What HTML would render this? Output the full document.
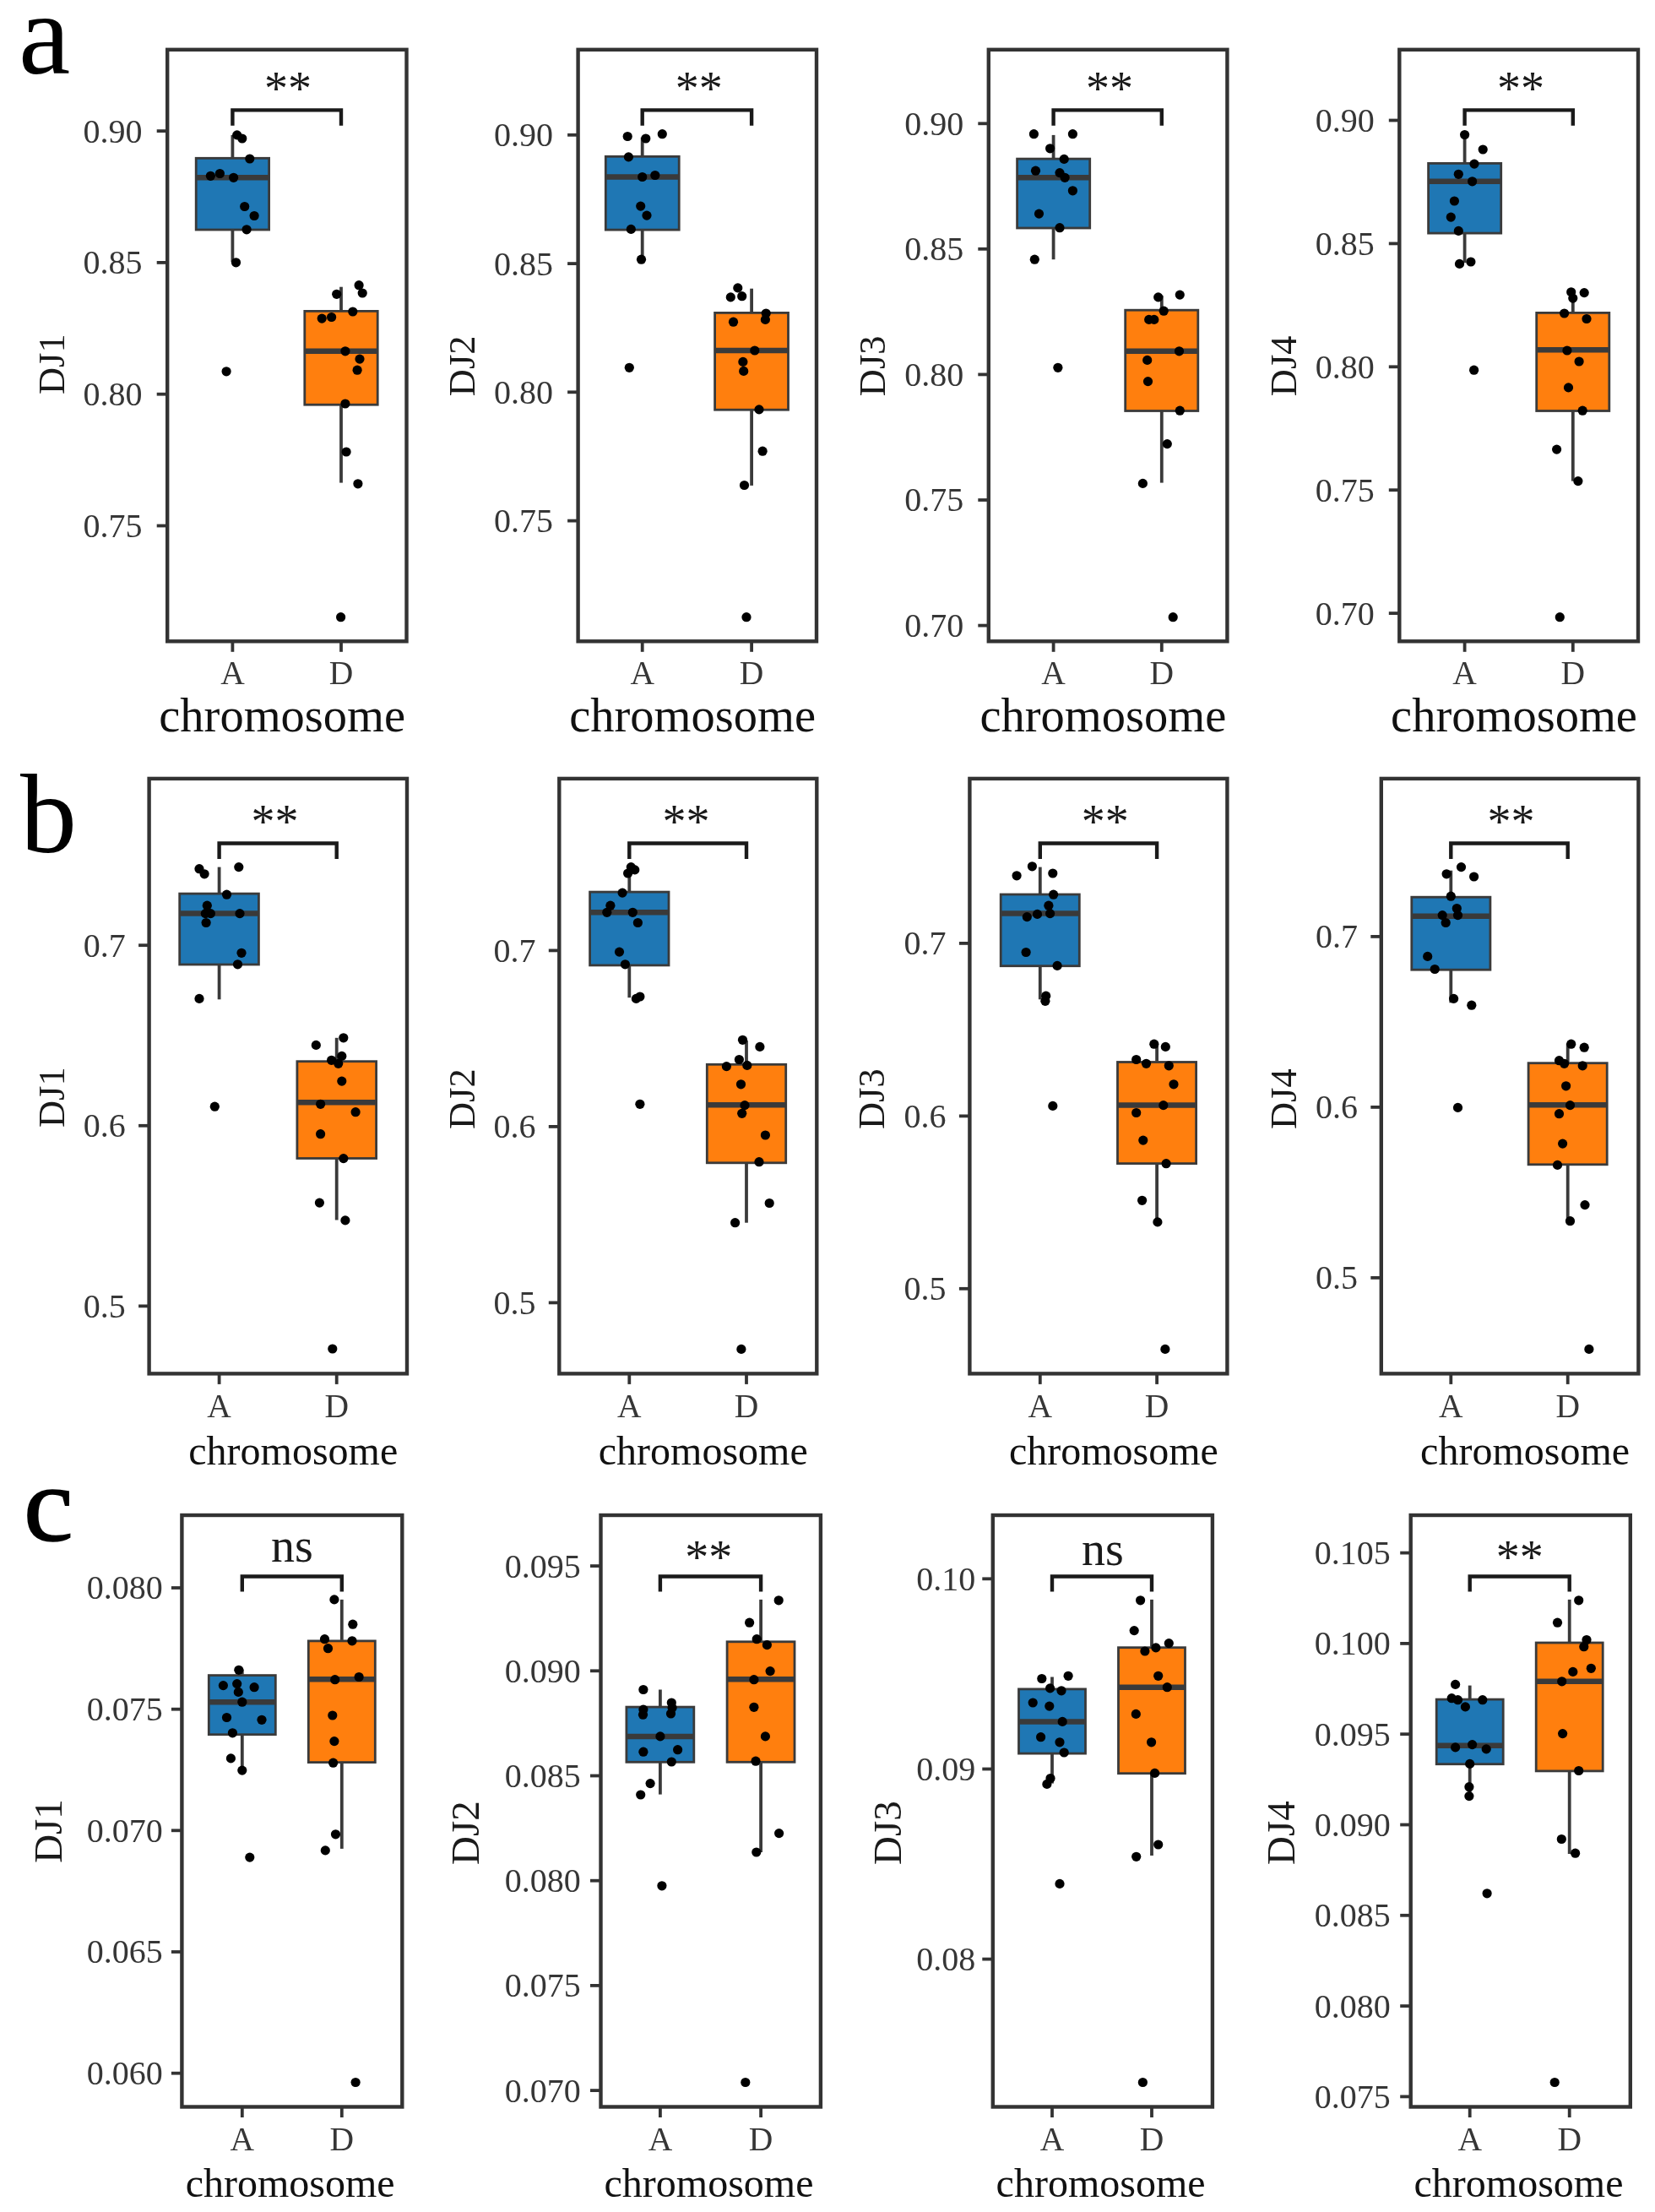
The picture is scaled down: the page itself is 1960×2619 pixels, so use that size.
<!DOCTYPE html>
<html lang="en">
<head>
<meta charset="utf-8">
<title>Boxplots of DJ1-DJ4 by chromosome (A vs D)</title>
<style>
html,body{margin:0;padding:0;background:#fff;}
body{width:1960px;height:2619px;overflow:hidden;}
svg{display:block;font-family:"Liberation Serif", "DejaVu Serif", serif;filter:blur(0.5px);}
</style>
</head>
<body>
<svg width="1960" height="2619" viewBox="0 0 1960 2619">
<rect width="1960" height="2619" fill="#ffffff"/>
<g class="panel" id="a1">
<line x1="275.4" y1="159.9" x2="275.4" y2="186.3" stroke="#3a3a3a" stroke-width="3.8"/>
<line x1="275.4" y1="271.8" x2="275.4" y2="310" stroke="#3a3a3a" stroke-width="3.8"/>
<rect x="232.2" y="187.3" width="86.4" height="84.7" fill="#1f77b4" stroke="#3a3a3a" stroke-width="2.8"/>
<line x1="232.2" y1="210.3" x2="318.6" y2="210.3" stroke="#3a3a3a" stroke-width="6.5"/>
<line x1="404" y1="339.7" x2="404" y2="367.4" stroke="#3a3a3a" stroke-width="3.8"/>
<line x1="404" y1="478.8" x2="404" y2="571.6" stroke="#3a3a3a" stroke-width="3.8"/>
<rect x="360.8" y="368.4" width="86.4" height="110.8" fill="#ff7f0e" stroke="#3a3a3a" stroke-width="2.8"/>
<line x1="360.8" y1="415.8" x2="447.2" y2="415.8" stroke="#3a3a3a" stroke-width="6.5"/>
<g fill="#000"><circle cx="280.7" cy="159.9" r="5.6"/><circle cx="286.8" cy="164" r="5.6"/><circle cx="295.8" cy="188" r="5.6"/><circle cx="249.4" cy="208.3" r="5.6"/><circle cx="260.4" cy="205.5" r="5.6"/><circle cx="276.6" cy="210.3" r="5.6"/><circle cx="289.7" cy="244.5" r="5.6"/><circle cx="301.1" cy="255.5" r="5.6"/><circle cx="292.1" cy="271.8" r="5.6"/><circle cx="279.5" cy="310.8" r="5.6"/><circle cx="268.1" cy="439.8" r="5.6"/><circle cx="425.1" cy="337.7" r="5.6"/><circle cx="429.2" cy="347" r="5.6"/><circle cx="398.7" cy="348.3" r="5.6"/><circle cx="417.8" cy="369" r="5.6"/><circle cx="381.2" cy="377.1" r="5.6"/><circle cx="392.6" cy="375.5" r="5.6"/><circle cx="408.9" cy="415.8" r="5.6"/><circle cx="426" cy="425.1" r="5.6"/><circle cx="423.1" cy="438.2" r="5.6"/><circle cx="408.9" cy="478" r="5.6"/><circle cx="410.1" cy="535" r="5.6"/><circle cx="423.9" cy="572.8" r="5.6"/><circle cx="403.6" cy="730.7" r="5.6"/></g>
<path d="M275.4 148.8V130.4H404V148.8" fill="none" stroke="#1a1a1a" stroke-width="4.4"/>
<text x="340.9" y="123.5" font-size="56" text-anchor="middle" fill="#1a1a1a">**</text>
<rect x="198.2" y="58.8" width="283.3" height="700.5" fill="none" stroke="#333333" stroke-width="4.4"/>
<line x1="185.7" y1="155.1" x2="198.2" y2="155.1" stroke="#333333" stroke-width="3.8"/>
<text x="168.6" y="168.5" font-size="40" text-anchor="end" fill="#363636">0.90</text>
<line x1="185.7" y1="310.9" x2="198.2" y2="310.9" stroke="#333333" stroke-width="3.8"/>
<text x="168.6" y="324.3" font-size="40" text-anchor="end" fill="#363636">0.85</text>
<line x1="185.7" y1="466.7" x2="198.2" y2="466.7" stroke="#333333" stroke-width="3.8"/>
<text x="168.6" y="480.1" font-size="40" text-anchor="end" fill="#363636">0.80</text>
<line x1="185.7" y1="622.5" x2="198.2" y2="622.5" stroke="#333333" stroke-width="3.8"/>
<text x="168.6" y="635.9" font-size="40" text-anchor="end" fill="#363636">0.75</text>
<line x1="275.4" y1="759.3" x2="275.4" y2="771.8" stroke="#333333" stroke-width="3.8"/>
<text x="275.4" y="810.2" font-size="39.5" text-anchor="middle" fill="#363636">A</text>
<line x1="404" y1="759.3" x2="404" y2="771.8" stroke="#333333" stroke-width="3.8"/>
<text x="404" y="810.2" font-size="39.5" text-anchor="middle" fill="#363636">D</text>
<text x="334.2" y="865.5" font-size="56.5" text-anchor="middle" fill="#111">chromosome</text>
<text transform="translate(61 431.2) rotate(-90)" x="0" y="14.7" font-size="44.5" text-anchor="middle" fill="#1a1a1a">DJ1</text>
</g>
<g class="panel" id="a2">
<line x1="760.7" y1="162.7" x2="760.7" y2="184.3" stroke="#3a3a3a" stroke-width="3.8"/>
<line x1="760.7" y1="271.8" x2="760.7" y2="307.2" stroke="#3a3a3a" stroke-width="3.8"/>
<rect x="717.3" y="185.3" width="86.9" height="86.8" fill="#1f77b4" stroke="#3a3a3a" stroke-width="2.8"/>
<line x1="717.3" y1="209.5" x2="804.2" y2="209.5" stroke="#3a3a3a" stroke-width="6.5"/>
<line x1="890.1" y1="341.7" x2="890.1" y2="369.4" stroke="#3a3a3a" stroke-width="3.8"/>
<line x1="890.1" y1="484.9" x2="890.1" y2="574.9" stroke="#3a3a3a" stroke-width="3.8"/>
<rect x="846.6" y="370.4" width="86.9" height="114.8" fill="#ff7f0e" stroke="#3a3a3a" stroke-width="2.8"/>
<line x1="846.6" y1="415" x2="933.6" y2="415" stroke="#3a3a3a" stroke-width="6.5"/>
<g fill="#000"><circle cx="743.2" cy="161.5" r="5.6"/><circle cx="764.8" cy="164" r="5.6"/><circle cx="784.3" cy="158.7" r="5.6"/><circle cx="744.4" cy="185.9" r="5.6"/><circle cx="760.7" cy="209.5" r="5.6"/><circle cx="775.8" cy="207.5" r="5.6"/><circle cx="758.7" cy="244.1" r="5.6"/><circle cx="766" cy="255.1" r="5.6"/><circle cx="747.3" cy="271.4" r="5.6"/><circle cx="759.5" cy="307.2" r="5.6"/><circle cx="745.3" cy="435.3" r="5.6"/><circle cx="873.8" cy="340.9" r="5.6"/><circle cx="865.3" cy="351.9" r="5.6"/><circle cx="878.7" cy="350.7" r="5.6"/><circle cx="907.2" cy="371" r="5.6"/><circle cx="868.5" cy="381.2" r="5.6"/><circle cx="906.4" cy="378.4" r="5.6"/><circle cx="893.8" cy="415" r="5.6"/><circle cx="879.9" cy="428.4" r="5.6"/><circle cx="880.7" cy="439.4" r="5.6"/><circle cx="899" cy="484.9" r="5.6"/><circle cx="903.1" cy="534.2" r="5.6"/><circle cx="881.5" cy="574.5" r="5.6"/><circle cx="884" cy="730.7" r="5.6"/></g>
<path d="M760.7 148.8V130.4H890.1V148.8" fill="none" stroke="#1a1a1a" stroke-width="4.4"/>
<text x="827.8" y="123.5" font-size="56" text-anchor="middle" fill="#1a1a1a">**</text>
<rect x="684.6" y="58.8" width="282.4" height="700.5" fill="none" stroke="#333333" stroke-width="4.4"/>
<line x1="672.1" y1="159.8" x2="684.6" y2="159.8" stroke="#333333" stroke-width="3.8"/>
<text x="655" y="173.2" font-size="40" text-anchor="end" fill="#363636">0.90</text>
<line x1="672.1" y1="312.1" x2="684.6" y2="312.1" stroke="#333333" stroke-width="3.8"/>
<text x="655" y="325.5" font-size="40" text-anchor="end" fill="#363636">0.85</text>
<line x1="672.1" y1="464.3" x2="684.6" y2="464.3" stroke="#333333" stroke-width="3.8"/>
<text x="655" y="477.7" font-size="40" text-anchor="end" fill="#363636">0.80</text>
<line x1="672.1" y1="616.6" x2="684.6" y2="616.6" stroke="#333333" stroke-width="3.8"/>
<text x="655" y="630" font-size="40" text-anchor="end" fill="#363636">0.75</text>
<line x1="760.7" y1="759.3" x2="760.7" y2="771.8" stroke="#333333" stroke-width="3.8"/>
<text x="760.7" y="810.2" font-size="39.5" text-anchor="middle" fill="#363636">A</text>
<line x1="890.1" y1="759.3" x2="890.1" y2="771.8" stroke="#333333" stroke-width="3.8"/>
<text x="890.1" y="810.2" font-size="39.5" text-anchor="middle" fill="#363636">D</text>
<text x="820.1" y="865.5" font-size="56.5" text-anchor="middle" fill="#111">chromosome</text>
<text transform="translate(547.1 433.3) rotate(-90)" x="0" y="14.7" font-size="44.5" text-anchor="middle" fill="#1a1a1a">DJ2</text>
</g>
<g class="panel" id="a3">
<line x1="1247.6" y1="159.9" x2="1247.6" y2="187.1" stroke="#3a3a3a" stroke-width="3.8"/>
<line x1="1247.6" y1="269.7" x2="1247.6" y2="307.2" stroke="#3a3a3a" stroke-width="3.8"/>
<rect x="1204.6" y="188.1" width="86.1" height="81.9" fill="#1f77b4" stroke="#3a3a3a" stroke-width="2.8"/>
<line x1="1204.6" y1="210.3" x2="1290.7" y2="210.3" stroke="#3a3a3a" stroke-width="6.5"/>
<line x1="1375.8" y1="349.9" x2="1375.8" y2="366.2" stroke="#3a3a3a" stroke-width="3.8"/>
<line x1="1375.8" y1="486.2" x2="1375.8" y2="571.6" stroke="#3a3a3a" stroke-width="3.8"/>
<rect x="1332.7" y="367.2" width="86.1" height="119.3" fill="#ff7f0e" stroke="#3a3a3a" stroke-width="2.8"/>
<line x1="1332.7" y1="415.8" x2="1418.8" y2="415.8" stroke="#3a3a3a" stroke-width="6.5"/>
<g fill="#000"><circle cx="1224.4" cy="158.7" r="5.6"/><circle cx="1270.4" cy="158.7" r="5.6"/><circle cx="1243.6" cy="175.8" r="5.6"/><circle cx="1260.2" cy="188.4" r="5.6"/><circle cx="1226.5" cy="202.2" r="5.6"/><circle cx="1255" cy="204.6" r="5.6"/><circle cx="1261.1" cy="210.3" r="5.6"/><circle cx="1270.4" cy="225.8" r="5.6"/><circle cx="1230.5" cy="253.1" r="5.6"/><circle cx="1255" cy="269.7" r="5.6"/><circle cx="1225.3" cy="307.2" r="5.6"/><circle cx="1252.9" cy="435.3" r="5.6"/><circle cx="1371.7" cy="351.9" r="5.6"/><circle cx="1397.3" cy="349.1" r="5.6"/><circle cx="1378.2" cy="368.2" r="5.6"/><circle cx="1360.7" cy="378.4" r="5.6"/><circle cx="1366.8" cy="378.4" r="5.6"/><circle cx="1396.5" cy="415.8" r="5.6"/><circle cx="1358.7" cy="426.4" r="5.6"/><circle cx="1359.5" cy="451.6" r="5.6"/><circle cx="1397.3" cy="486.2" r="5.6"/><circle cx="1382.3" cy="525.6" r="5.6"/><circle cx="1353.4" cy="572.4" r="5.6"/><circle cx="1389.2" cy="730.7" r="5.6"/></g>
<path d="M1247.6 148.8V130.4H1375.8V148.8" fill="none" stroke="#1a1a1a" stroke-width="4.4"/>
<text x="1313.9" y="123.5" font-size="56" text-anchor="middle" fill="#1a1a1a">**</text>
<rect x="1170.8" y="58.8" width="282.6" height="700.5" fill="none" stroke="#333333" stroke-width="4.4"/>
<line x1="1158.3" y1="146.3" x2="1170.8" y2="146.3" stroke="#333333" stroke-width="3.8"/>
<text x="1141.2" y="159.7" font-size="40" text-anchor="end" fill="#363636">0.90</text>
<line x1="1158.3" y1="294.8" x2="1170.8" y2="294.8" stroke="#333333" stroke-width="3.8"/>
<text x="1141.2" y="308.2" font-size="40" text-anchor="end" fill="#363636">0.85</text>
<line x1="1158.3" y1="443.4" x2="1170.8" y2="443.4" stroke="#333333" stroke-width="3.8"/>
<text x="1141.2" y="456.8" font-size="40" text-anchor="end" fill="#363636">0.80</text>
<line x1="1158.3" y1="592" x2="1170.8" y2="592" stroke="#333333" stroke-width="3.8"/>
<text x="1141.2" y="605.4" font-size="40" text-anchor="end" fill="#363636">0.75</text>
<line x1="1158.3" y1="740.6" x2="1170.8" y2="740.6" stroke="#333333" stroke-width="3.8"/>
<text x="1141.2" y="754" font-size="40" text-anchor="end" fill="#363636">0.70</text>
<line x1="1247.6" y1="759.3" x2="1247.6" y2="771.8" stroke="#333333" stroke-width="3.8"/>
<text x="1247.6" y="810.2" font-size="39.5" text-anchor="middle" fill="#363636">A</text>
<line x1="1375.8" y1="759.3" x2="1375.8" y2="771.8" stroke="#333333" stroke-width="3.8"/>
<text x="1375.8" y="810.2" font-size="39.5" text-anchor="middle" fill="#363636">D</text>
<text x="1306.4" y="865.5" font-size="56.5" text-anchor="middle" fill="#111">chromosome</text>
<text transform="translate(1033.2 433.3) rotate(-90)" x="0" y="14.7" font-size="44.5" text-anchor="middle" fill="#1a1a1a">DJ3</text>
</g>
<g class="panel" id="a4">
<line x1="1734.6" y1="159.9" x2="1734.6" y2="192.4" stroke="#3a3a3a" stroke-width="3.8"/>
<line x1="1734.6" y1="275.8" x2="1734.6" y2="311.2" stroke="#3a3a3a" stroke-width="3.8"/>
<rect x="1691.6" y="193.4" width="86.1" height="82.7" fill="#1f77b4" stroke="#3a3a3a" stroke-width="2.8"/>
<line x1="1691.6" y1="214.8" x2="1777.7" y2="214.8" stroke="#3a3a3a" stroke-width="6.5"/>
<line x1="1862.8" y1="345" x2="1862.8" y2="369.4" stroke="#3a3a3a" stroke-width="3.8"/>
<line x1="1862.8" y1="486.2" x2="1862.8" y2="569.6" stroke="#3a3a3a" stroke-width="3.8"/>
<rect x="1819.7" y="370.4" width="86.1" height="116.1" fill="#ff7f0e" stroke="#3a3a3a" stroke-width="2.8"/>
<line x1="1819.7" y1="414.2" x2="1905.8" y2="414.2" stroke="#3a3a3a" stroke-width="6.5"/>
<g fill="#000"><circle cx="1734.6" cy="159.5" r="5.6"/><circle cx="1756.2" cy="177" r="5.6"/><circle cx="1746" cy="194.1" r="5.6"/><circle cx="1727.3" cy="206.3" r="5.6"/><circle cx="1743.6" cy="214.8" r="5.6"/><circle cx="1722.4" cy="238" r="5.6"/><circle cx="1718.3" cy="257.1" r="5.6"/><circle cx="1727.3" cy="273.4" r="5.6"/><circle cx="1728.5" cy="312.4" r="5.6"/><circle cx="1741.9" cy="310" r="5.6"/><circle cx="1745.6" cy="438.2" r="5.6"/><circle cx="1860.7" cy="345.8" r="5.6"/><circle cx="1876.2" cy="346.6" r="5.6"/><circle cx="1862.8" cy="353.1" r="5.6"/><circle cx="1852.6" cy="371" r="5.6"/><circle cx="1879" cy="377.5" r="5.6"/><circle cx="1855.9" cy="415" r="5.6"/><circle cx="1870.1" cy="428" r="5.6"/><circle cx="1857.5" cy="458.9" r="5.6"/><circle cx="1874.2" cy="486.2" r="5.6"/><circle cx="1843.6" cy="532.1" r="5.6"/><circle cx="1868.9" cy="569.6" r="5.6"/><circle cx="1847.3" cy="730.7" r="5.6"/></g>
<path d="M1734.6 148.8V130.4H1862.8V148.8" fill="none" stroke="#1a1a1a" stroke-width="4.4"/>
<text x="1800.9" y="123.5" font-size="56" text-anchor="middle" fill="#1a1a1a">**</text>
<rect x="1657.3" y="58.8" width="282.7" height="700.5" fill="none" stroke="#333333" stroke-width="4.4"/>
<line x1="1644.8" y1="142.5" x2="1657.3" y2="142.5" stroke="#333333" stroke-width="3.8"/>
<text x="1627.7" y="155.9" font-size="40" text-anchor="end" fill="#363636">0.90</text>
<line x1="1644.8" y1="288.4" x2="1657.3" y2="288.4" stroke="#333333" stroke-width="3.8"/>
<text x="1627.7" y="301.8" font-size="40" text-anchor="end" fill="#363636">0.85</text>
<line x1="1644.8" y1="434.3" x2="1657.3" y2="434.3" stroke="#333333" stroke-width="3.8"/>
<text x="1627.7" y="447.7" font-size="40" text-anchor="end" fill="#363636">0.80</text>
<line x1="1644.8" y1="580.2" x2="1657.3" y2="580.2" stroke="#333333" stroke-width="3.8"/>
<text x="1627.7" y="593.6" font-size="40" text-anchor="end" fill="#363636">0.75</text>
<line x1="1644.8" y1="726.1" x2="1657.3" y2="726.1" stroke="#333333" stroke-width="3.8"/>
<text x="1627.7" y="739.5" font-size="40" text-anchor="end" fill="#363636">0.70</text>
<line x1="1734.6" y1="759.3" x2="1734.6" y2="771.8" stroke="#333333" stroke-width="3.8"/>
<text x="1734.6" y="810.2" font-size="39.5" text-anchor="middle" fill="#363636">A</text>
<line x1="1862.8" y1="759.3" x2="1862.8" y2="771.8" stroke="#333333" stroke-width="3.8"/>
<text x="1862.8" y="810.2" font-size="39.5" text-anchor="middle" fill="#363636">D</text>
<text x="1793" y="865.5" font-size="56.5" text-anchor="middle" fill="#111">chromosome</text>
<text transform="translate(1520.2 433.3) rotate(-90)" x="0" y="14.7" font-size="44.5" text-anchor="middle" fill="#1a1a1a">DJ4</text>
</g>
<g class="panel" id="b1">
<line x1="259.6" y1="1026.6" x2="259.6" y2="1057.1" stroke="#3a3a3a" stroke-width="3.8"/>
<line x1="259.6" y1="1141.8" x2="259.6" y2="1183.3" stroke="#3a3a3a" stroke-width="3.8"/>
<rect x="212.7" y="1058.1" width="93.7" height="83.9" fill="#1f77b4" stroke="#3a3a3a" stroke-width="2.8"/>
<line x1="212.7" y1="1081.6" x2="306.4" y2="1081.6" stroke="#3a3a3a" stroke-width="6.5"/>
<line x1="398.7" y1="1228.8" x2="398.7" y2="1255.7" stroke="#3a3a3a" stroke-width="3.8"/>
<line x1="398.7" y1="1371.2" x2="398.7" y2="1444.5" stroke="#3a3a3a" stroke-width="3.8"/>
<rect x="351.9" y="1256.7" width="93.7" height="114.8" fill="#ff7f0e" stroke="#3a3a3a" stroke-width="2.8"/>
<line x1="351.9" y1="1305.3" x2="445.5" y2="1305.3" stroke="#3a3a3a" stroke-width="6.5"/>
<g fill="#000"><circle cx="236" cy="1028.7" r="5.6"/><circle cx="242.1" cy="1034.8" r="5.6"/><circle cx="282.8" cy="1026.6" r="5.6"/><circle cx="268.5" cy="1059.2" r="5.6"/><circle cx="245.3" cy="1072.2" r="5.6"/><circle cx="243.3" cy="1081.6" r="5.6"/><circle cx="249.4" cy="1081.6" r="5.6"/><circle cx="244.1" cy="1092.5" r="5.6"/><circle cx="284" cy="1081.6" r="5.6"/><circle cx="286" cy="1128.3" r="5.6"/><circle cx="281.5" cy="1141.8" r="5.6"/><circle cx="236" cy="1182.4" r="5.6"/><circle cx="254.3" cy="1310.2" r="5.6"/><circle cx="406.8" cy="1228.8" r="5.6"/><circle cx="374.3" cy="1237.4" r="5.6"/><circle cx="404.8" cy="1250.4" r="5.6"/><circle cx="392.6" cy="1255.3" r="5.6"/><circle cx="400.7" cy="1259.3" r="5.6"/><circle cx="404.8" cy="1280.1" r="5.6"/><circle cx="379.6" cy="1307.3" r="5.6"/><circle cx="421.1" cy="1316.7" r="5.6"/><circle cx="379.6" cy="1342.7" r="5.6"/><circle cx="406.8" cy="1371.6" r="5.6"/><circle cx="378.4" cy="1424.1" r="5.6"/><circle cx="408.9" cy="1444.9" r="5.6"/><circle cx="393.8" cy="1597" r="5.6"/></g>
<path d="M259.6 1017V998.5H398.7V1017" fill="none" stroke="#1a1a1a" stroke-width="4.4"/>
<text x="325.5" y="992.2" font-size="56" text-anchor="middle" fill="#1a1a1a">**</text>
<rect x="176.6" y="921.9" width="305.4" height="704.5" fill="none" stroke="#333333" stroke-width="4.4"/>
<line x1="164.1" y1="1119.2" x2="176.6" y2="1119.2" stroke="#333333" stroke-width="3.8"/>
<text x="148.8" y="1132.6" font-size="40" text-anchor="end" fill="#363636">0.7</text>
<line x1="164.1" y1="1332.8" x2="176.6" y2="1332.8" stroke="#333333" stroke-width="3.8"/>
<text x="148.8" y="1346.2" font-size="40" text-anchor="end" fill="#363636">0.6</text>
<line x1="164.1" y1="1546.4" x2="176.6" y2="1546.4" stroke="#333333" stroke-width="3.8"/>
<text x="148.8" y="1559.8" font-size="40" text-anchor="end" fill="#363636">0.5</text>
<line x1="259.6" y1="1626.4" x2="259.6" y2="1638.9" stroke="#333333" stroke-width="3.8"/>
<text x="259.6" y="1678.4" font-size="39.5" text-anchor="middle" fill="#363636">A</text>
<line x1="398.7" y1="1626.4" x2="398.7" y2="1638.9" stroke="#333333" stroke-width="3.8"/>
<text x="398.7" y="1678.4" font-size="39.5" text-anchor="middle" fill="#363636">D</text>
<text x="347.3" y="1734" font-size="48" text-anchor="middle" fill="#111">chromosome</text>
<text transform="translate(61 1299.2) rotate(-90)" x="0" y="14.7" font-size="44.5" text-anchor="middle" fill="#1a1a1a">DJ1</text>
</g>
<g class="panel" id="b2">
<line x1="745.3" y1="1024.6" x2="745.3" y2="1055.1" stroke="#3a3a3a" stroke-width="3.8"/>
<line x1="745.3" y1="1142.6" x2="745.3" y2="1181.2" stroke="#3a3a3a" stroke-width="3.8"/>
<rect x="698.6" y="1056.1" width="93.4" height="86.8" fill="#1f77b4" stroke="#3a3a3a" stroke-width="2.8"/>
<line x1="698.6" y1="1080.3" x2="792" y2="1080.3" stroke="#3a3a3a" stroke-width="6.5"/>
<line x1="884" y1="1232.1" x2="884" y2="1259.3" stroke="#3a3a3a" stroke-width="3.8"/>
<line x1="884" y1="1376.5" x2="884" y2="1447.7" stroke="#3a3a3a" stroke-width="3.8"/>
<rect x="837.3" y="1260.3" width="93.4" height="116.5" fill="#ff7f0e" stroke="#3a3a3a" stroke-width="2.8"/>
<line x1="837.3" y1="1308.2" x2="930.7" y2="1308.2" stroke="#3a3a3a" stroke-width="6.5"/>
<g fill="#000"><circle cx="747.3" cy="1026.6" r="5.6"/><circle cx="751.8" cy="1029.9" r="5.6"/><circle cx="743.6" cy="1034" r="5.6"/><circle cx="737.1" cy="1057.1" r="5.6"/><circle cx="722.9" cy="1072.2" r="5.6"/><circle cx="718.8" cy="1080.3" r="5.6"/><circle cx="749.3" cy="1080.3" r="5.6"/><circle cx="755.4" cy="1092.5" r="5.6"/><circle cx="733.5" cy="1127.1" r="5.6"/><circle cx="740.4" cy="1141.8" r="5.6"/><circle cx="753.4" cy="1182.4" r="5.6"/><circle cx="757.9" cy="1180" r="5.6"/><circle cx="757.9" cy="1307.3" r="5.6"/><circle cx="879.5" cy="1231.3" r="5.6"/><circle cx="899.9" cy="1239.4" r="5.6"/><circle cx="875.4" cy="1254.5" r="5.6"/><circle cx="860.4" cy="1262.6" r="5.6"/><circle cx="884.8" cy="1261.4" r="5.6"/><circle cx="877.5" cy="1283.8" r="5.6"/><circle cx="882" cy="1308.6" r="5.6"/><circle cx="878.7" cy="1318.3" r="5.6"/><circle cx="906.4" cy="1344" r="5.6"/><circle cx="899" cy="1375.7" r="5.6"/><circle cx="911.2" cy="1424.5" r="5.6"/><circle cx="870.6" cy="1447.7" r="5.6"/><circle cx="877.9" cy="1597.4" r="5.6"/></g>
<path d="M745.3 1017V998.5H884V1017" fill="none" stroke="#1a1a1a" stroke-width="4.4"/>
<text x="812.4" y="992.2" font-size="56" text-anchor="middle" fill="#1a1a1a">**</text>
<rect x="662.3" y="921.9" width="305" height="704.5" fill="none" stroke="#333333" stroke-width="4.4"/>
<line x1="649.8" y1="1125.4" x2="662.3" y2="1125.4" stroke="#333333" stroke-width="3.8"/>
<text x="634.5" y="1138.8" font-size="40" text-anchor="end" fill="#363636">0.7</text>
<line x1="649.8" y1="1333.9" x2="662.3" y2="1333.9" stroke="#333333" stroke-width="3.8"/>
<text x="634.5" y="1347.3" font-size="40" text-anchor="end" fill="#363636">0.6</text>
<line x1="649.8" y1="1542.4" x2="662.3" y2="1542.4" stroke="#333333" stroke-width="3.8"/>
<text x="634.5" y="1555.8" font-size="40" text-anchor="end" fill="#363636">0.5</text>
<line x1="745.3" y1="1626.4" x2="745.3" y2="1638.9" stroke="#333333" stroke-width="3.8"/>
<text x="745.3" y="1678.4" font-size="39.5" text-anchor="middle" fill="#363636">A</text>
<line x1="884" y1="1626.4" x2="884" y2="1638.9" stroke="#333333" stroke-width="3.8"/>
<text x="884" y="1678.4" font-size="39.5" text-anchor="middle" fill="#363636">D</text>
<text x="832.8" y="1734" font-size="48" text-anchor="middle" fill="#111">chromosome</text>
<text transform="translate(547.1 1301.2) rotate(-90)" x="0" y="14.7" font-size="44.5" text-anchor="middle" fill="#1a1a1a">DJ2</text>
</g>
<g class="panel" id="b3">
<line x1="1231.8" y1="1026.6" x2="1231.8" y2="1058" stroke="#3a3a3a" stroke-width="3.8"/>
<line x1="1231.8" y1="1143.4" x2="1231.8" y2="1183.3" stroke="#3a3a3a" stroke-width="3.8"/>
<rect x="1185.2" y="1059" width="93.1" height="84.7" fill="#1f77b4" stroke="#3a3a3a" stroke-width="2.8"/>
<line x1="1185.2" y1="1081.6" x2="1278.3" y2="1081.6" stroke="#3a3a3a" stroke-width="6.5"/>
<line x1="1370.1" y1="1236.2" x2="1370.1" y2="1256.5" stroke="#3a3a3a" stroke-width="3.8"/>
<line x1="1370.1" y1="1377.3" x2="1370.1" y2="1446.9" stroke="#3a3a3a" stroke-width="3.8"/>
<rect x="1323.5" y="1257.5" width="93.1" height="120.1" fill="#ff7f0e" stroke="#3a3a3a" stroke-width="2.8"/>
<line x1="1323.5" y1="1308.6" x2="1416.6" y2="1308.6" stroke="#3a3a3a" stroke-width="6.5"/>
<g fill="#000"><circle cx="1222.4" cy="1025.8" r="5.6"/><circle cx="1204.1" cy="1036.8" r="5.6"/><circle cx="1246.8" cy="1034" r="5.6"/><circle cx="1247.6" cy="1059.2" r="5.6"/><circle cx="1241.9" cy="1072.2" r="5.6"/><circle cx="1216.3" cy="1085.6" r="5.6"/><circle cx="1228.5" cy="1082.4" r="5.6"/><circle cx="1243.6" cy="1081.6" r="5.6"/><circle cx="1215.1" cy="1127.5" r="5.6"/><circle cx="1252.1" cy="1143.4" r="5.6"/><circle cx="1238.7" cy="1179.2" r="5.6"/><circle cx="1237.9" cy="1185.3" r="5.6"/><circle cx="1246.8" cy="1309.4" r="5.6"/><circle cx="1366.8" cy="1236.2" r="5.6"/><circle cx="1380.3" cy="1239.4" r="5.6"/><circle cx="1345.7" cy="1254.5" r="5.6"/><circle cx="1357.5" cy="1259.3" r="5.6"/><circle cx="1384.3" cy="1261.8" r="5.6"/><circle cx="1390" cy="1283.8" r="5.6"/><circle cx="1377.8" cy="1308.6" r="5.6"/><circle cx="1345.7" cy="1317.5" r="5.6"/><circle cx="1353.8" cy="1350.1" r="5.6"/><circle cx="1381.1" cy="1377.7" r="5.6"/><circle cx="1352.6" cy="1421.3" r="5.6"/><circle cx="1370.9" cy="1446.9" r="5.6"/><circle cx="1379.9" cy="1597.4" r="5.6"/></g>
<path d="M1231.8 1017V998.5H1370.1V1017" fill="none" stroke="#1a1a1a" stroke-width="4.4"/>
<text x="1308.7" y="992.2" font-size="56" text-anchor="middle" fill="#1a1a1a">**</text>
<rect x="1148.4" y="921.9" width="305" height="704.5" fill="none" stroke="#333333" stroke-width="4.4"/>
<line x1="1135.9" y1="1116.9" x2="1148.4" y2="1116.9" stroke="#333333" stroke-width="3.8"/>
<text x="1120.6" y="1130.3" font-size="40" text-anchor="end" fill="#363636">0.7</text>
<line x1="1135.9" y1="1321.4" x2="1148.4" y2="1321.4" stroke="#333333" stroke-width="3.8"/>
<text x="1120.6" y="1334.8" font-size="40" text-anchor="end" fill="#363636">0.6</text>
<line x1="1135.9" y1="1525.8" x2="1148.4" y2="1525.8" stroke="#333333" stroke-width="3.8"/>
<text x="1120.6" y="1539.2" font-size="40" text-anchor="end" fill="#363636">0.5</text>
<line x1="1231.8" y1="1626.4" x2="1231.8" y2="1638.9" stroke="#333333" stroke-width="3.8"/>
<text x="1231.8" y="1678.4" font-size="39.5" text-anchor="middle" fill="#363636">A</text>
<line x1="1370.1" y1="1626.4" x2="1370.1" y2="1638.9" stroke="#333333" stroke-width="3.8"/>
<text x="1370.1" y="1678.4" font-size="39.5" text-anchor="middle" fill="#363636">D</text>
<text x="1318.9" y="1734" font-size="48" text-anchor="middle" fill="#111">chromosome</text>
<text transform="translate(1032.4 1301.2) rotate(-90)" x="0" y="14.7" font-size="44.5" text-anchor="middle" fill="#1a1a1a">DJ3</text>
</g>
<g class="panel" id="b4">
<line x1="1718.3" y1="1030.7" x2="1718.3" y2="1061.2" stroke="#3a3a3a" stroke-width="3.8"/>
<line x1="1718.3" y1="1147.9" x2="1718.3" y2="1187.3" stroke="#3a3a3a" stroke-width="3.8"/>
<rect x="1671.8" y="1062.2" width="93.1" height="86" fill="#1f77b4" stroke="#3a3a3a" stroke-width="2.8"/>
<line x1="1671.8" y1="1084.8" x2="1764.9" y2="1084.8" stroke="#3a3a3a" stroke-width="6.5"/>
<line x1="1856.7" y1="1235.3" x2="1856.7" y2="1257.7" stroke="#3a3a3a" stroke-width="3.8"/>
<line x1="1856.7" y1="1378.5" x2="1856.7" y2="1445.7" stroke="#3a3a3a" stroke-width="3.8"/>
<rect x="1810.1" y="1258.7" width="93.1" height="120.1" fill="#ff7f0e" stroke="#3a3a3a" stroke-width="2.8"/>
<line x1="1810.1" y1="1308.2" x2="1903.2" y2="1308.2" stroke="#3a3a3a" stroke-width="6.5"/>
<g fill="#000"><circle cx="1730.5" cy="1026.6" r="5.6"/><circle cx="1713.1" cy="1034.8" r="5.6"/><circle cx="1745.6" cy="1038" r="5.6"/><circle cx="1718.3" cy="1061.2" r="5.6"/><circle cx="1725.3" cy="1075.5" r="5.6"/><circle cx="1708.2" cy="1083.6" r="5.6"/><circle cx="1726.5" cy="1083.6" r="5.6"/><circle cx="1712.2" cy="1092.5" r="5.6"/><circle cx="1690.7" cy="1132.4" r="5.6"/><circle cx="1699.2" cy="1147.5" r="5.6"/><circle cx="1721.6" cy="1182.4" r="5.6"/><circle cx="1742.8" cy="1190.2" r="5.6"/><circle cx="1726.5" cy="1311.4" r="5.6"/><circle cx="1860.7" cy="1236.2" r="5.6"/><circle cx="1876.2" cy="1240.2" r="5.6"/><circle cx="1846.5" cy="1255.7" r="5.6"/><circle cx="1852.6" cy="1259.3" r="5.6"/><circle cx="1874.2" cy="1261.8" r="5.6"/><circle cx="1854.6" cy="1285.8" r="5.6"/><circle cx="1859.5" cy="1308.6" r="5.6"/><circle cx="1846.5" cy="1318.7" r="5.6"/><circle cx="1850.6" cy="1354.1" r="5.6"/><circle cx="1844.5" cy="1379.4" r="5.6"/><circle cx="1877" cy="1426.6" r="5.6"/><circle cx="1859.5" cy="1445.7" r="5.6"/><circle cx="1881.9" cy="1597.4" r="5.6"/></g>
<path d="M1718.3 1017V998.5H1856.7V1017" fill="none" stroke="#1a1a1a" stroke-width="4.4"/>
<text x="1789.5" y="992.2" font-size="56" text-anchor="middle" fill="#1a1a1a">**</text>
<rect x="1635.8" y="921.9" width="304.6" height="704.5" fill="none" stroke="#333333" stroke-width="4.4"/>
<line x1="1623.3" y1="1108.9" x2="1635.8" y2="1108.9" stroke="#333333" stroke-width="3.8"/>
<text x="1608" y="1122.3" font-size="40" text-anchor="end" fill="#363636">0.7</text>
<line x1="1623.3" y1="1310.9" x2="1635.8" y2="1310.9" stroke="#333333" stroke-width="3.8"/>
<text x="1608" y="1324.3" font-size="40" text-anchor="end" fill="#363636">0.6</text>
<line x1="1623.3" y1="1512.9" x2="1635.8" y2="1512.9" stroke="#333333" stroke-width="3.8"/>
<text x="1608" y="1526.3" font-size="40" text-anchor="end" fill="#363636">0.5</text>
<line x1="1718.3" y1="1626.4" x2="1718.3" y2="1638.9" stroke="#333333" stroke-width="3.8"/>
<text x="1718.3" y="1678.4" font-size="39.5" text-anchor="middle" fill="#363636">A</text>
<line x1="1856.7" y1="1626.4" x2="1856.7" y2="1638.9" stroke="#333333" stroke-width="3.8"/>
<text x="1856.7" y="1678.4" font-size="39.5" text-anchor="middle" fill="#363636">D</text>
<text x="1806.1" y="1734" font-size="48" text-anchor="middle" fill="#111">chromosome</text>
<text transform="translate(1520.2 1301.2) rotate(-90)" x="0" y="14.7" font-size="44.5" text-anchor="middle" fill="#1a1a1a">DJ4</text>
</g>
<g class="panel" id="c1">
<line x1="286.8" y1="1976.5" x2="286.8" y2="1982.6" stroke="#3a3a3a" stroke-width="3.8"/>
<line x1="286.8" y1="2053.4" x2="286.8" y2="2095.3" stroke="#3a3a3a" stroke-width="3.8"/>
<rect x="247.3" y="1983.6" width="79" height="70.1" fill="#1f77b4" stroke="#3a3a3a" stroke-width="2.8"/>
<line x1="247.3" y1="2015.2" x2="326.3" y2="2015.2" stroke="#3a3a3a" stroke-width="6.5"/>
<line x1="404.8" y1="1893.9" x2="404.8" y2="1941.9" stroke="#3a3a3a" stroke-width="3.8"/>
<line x1="404.8" y1="2086.4" x2="404.8" y2="2188.9" stroke="#3a3a3a" stroke-width="3.8"/>
<rect x="365.3" y="1942.9" width="79" height="143.7" fill="#ff7f0e" stroke="#3a3a3a" stroke-width="2.8"/>
<line x1="365.3" y1="1988.3" x2="444.3" y2="1988.3" stroke="#3a3a3a" stroke-width="6.5"/>
<g fill="#000"><circle cx="282.8" cy="1977.3" r="5.6"/><circle cx="264.4" cy="1995.6" r="5.6"/><circle cx="280.7" cy="1993.6" r="5.6"/><circle cx="282.3" cy="2003.4" r="5.6"/><circle cx="301.1" cy="1997.7" r="5.6"/><circle cx="286.8" cy="2015.2" r="5.6"/><circle cx="268.5" cy="2033.5" r="5.6"/><circle cx="310" cy="2036.3" r="5.6"/><circle cx="275.4" cy="2051.8" r="5.6"/><circle cx="273.4" cy="2081.9" r="5.6"/><circle cx="286.8" cy="2096.1" r="5.6"/><circle cx="295.8" cy="2199.1" r="5.6"/><circle cx="395.9" cy="1893.9" r="5.6"/><circle cx="417.8" cy="1923.2" r="5.6"/><circle cx="384.5" cy="1940.7" r="5.6"/><circle cx="417" cy="1942.8" r="5.6"/><circle cx="388.5" cy="1951.7" r="5.6"/><circle cx="425.1" cy="1985.5" r="5.6"/><circle cx="396.7" cy="1988.7" r="5.6"/><circle cx="393.8" cy="2031" r="5.6"/><circle cx="395.9" cy="2061.6" r="5.6"/><circle cx="394.6" cy="2087.2" r="5.6"/><circle cx="397.5" cy="2171.8" r="5.6"/><circle cx="385.3" cy="2190.9" r="5.6"/><circle cx="421.1" cy="2465.5" r="5.6"/></g>
<path d="M286.8 1884.5V1866.5H404.8V1884.5" fill="none" stroke="#1a1a1a" stroke-width="4.4"/>
<text x="345.8" y="1849.3" font-size="56" text-anchor="middle" fill="#1a1a1a">ns</text>
<rect x="215.4" y="1794" width="260.9" height="700.5" fill="none" stroke="#333333" stroke-width="4.4"/>
<line x1="202.9" y1="1880" x2="215.4" y2="1880" stroke="#333333" stroke-width="3.8"/>
<text x="192.8" y="1893.4" font-size="40" text-anchor="end" fill="#363636">0.080</text>
<line x1="202.9" y1="2023.7" x2="215.4" y2="2023.7" stroke="#333333" stroke-width="3.8"/>
<text x="192.8" y="2037.1" font-size="40" text-anchor="end" fill="#363636">0.075</text>
<line x1="202.9" y1="2167.3" x2="215.4" y2="2167.3" stroke="#333333" stroke-width="3.8"/>
<text x="192.8" y="2180.7" font-size="40" text-anchor="end" fill="#363636">0.070</text>
<line x1="202.9" y1="2311" x2="215.4" y2="2311" stroke="#333333" stroke-width="3.8"/>
<text x="192.8" y="2324.4" font-size="40" text-anchor="end" fill="#363636">0.065</text>
<line x1="202.9" y1="2454.7" x2="215.4" y2="2454.7" stroke="#333333" stroke-width="3.8"/>
<text x="192.8" y="2468.1" font-size="40" text-anchor="end" fill="#363636">0.060</text>
<line x1="286.8" y1="2494.5" x2="286.8" y2="2507" stroke="#333333" stroke-width="3.8"/>
<text x="286.8" y="2545.5" font-size="39.5" text-anchor="middle" fill="#363636">A</text>
<line x1="404.8" y1="2494.5" x2="404.8" y2="2507" stroke="#333333" stroke-width="3.8"/>
<text x="404.8" y="2545.5" font-size="39.5" text-anchor="middle" fill="#363636">D</text>
<text x="343.7" y="2601" font-size="48" text-anchor="middle" fill="#111">chromosome</text>
<text transform="translate(57 2168) rotate(-90)" x="0" y="15.5" font-size="47" text-anchor="middle" fill="#1a1a1a">DJ1</text>
</g>
<g class="panel" id="c2">
<line x1="781.9" y1="2000.5" x2="781.9" y2="2020.1" stroke="#3a3a3a" stroke-width="3.8"/>
<line x1="781.9" y1="2086" x2="781.9" y2="2124.6" stroke="#3a3a3a" stroke-width="3.8"/>
<rect x="741.9" y="2021.1" width="79.9" height="65.2" fill="#1f77b4" stroke="#3a3a3a" stroke-width="2.8"/>
<line x1="741.9" y1="2055.9" x2="821.8" y2="2055.9" stroke="#3a3a3a" stroke-width="6.5"/>
<line x1="901.1" y1="1893.9" x2="901.1" y2="1942.8" stroke="#3a3a3a" stroke-width="3.8"/>
<line x1="901.1" y1="2086" x2="901.1" y2="2193" stroke="#3a3a3a" stroke-width="3.8"/>
<rect x="861.1" y="1943.8" width="79.9" height="142.5" fill="#ff7f0e" stroke="#3a3a3a" stroke-width="2.8"/>
<line x1="861.1" y1="1988.3" x2="941" y2="1988.3" stroke="#3a3a3a" stroke-width="6.5"/>
<g fill="#000"><circle cx="761.9" cy="2000.5" r="5.6"/><circle cx="795.3" cy="2016" r="5.6"/><circle cx="796.1" cy="2022.1" r="5.6"/><circle cx="761.9" cy="2024.1" r="5.6"/><circle cx="761.5" cy="2030.2" r="5.6"/><circle cx="794.5" cy="2029" r="5.6"/><circle cx="781.9" cy="2055.9" r="5.6"/><circle cx="761.9" cy="2074.2" r="5.6"/><circle cx="802.6" cy="2071.7" r="5.6"/><circle cx="795.3" cy="2086" r="5.6"/><circle cx="770.1" cy="2111.6" r="5.6"/><circle cx="758.7" cy="2125" r="5.6"/><circle cx="783.9" cy="2232.8" r="5.6"/><circle cx="922.2" cy="1894.8" r="5.6"/><circle cx="887.6" cy="1921.2" r="5.6"/><circle cx="896.2" cy="1940.7" r="5.6"/><circle cx="908.4" cy="1947.6" r="5.6"/><circle cx="912.1" cy="1978.6" r="5.6"/><circle cx="892.9" cy="1988.7" r="5.6"/><circle cx="892.9" cy="2021.3" r="5.6"/><circle cx="906.4" cy="2055.9" r="5.6"/><circle cx="895" cy="2085.2" r="5.6"/><circle cx="922.6" cy="2170.6" r="5.6"/><circle cx="895.8" cy="2193" r="5.6"/><circle cx="882.8" cy="2465.5" r="5.6"/></g>
<path d="M781.9 1884.5V1866.5H901.1V1884.5" fill="none" stroke="#1a1a1a" stroke-width="4.4"/>
<text x="839.2" y="1862.8" font-size="56" text-anchor="middle" fill="#1a1a1a">**</text>
<rect x="711.5" y="1794" width="260.4" height="700.5" fill="none" stroke="#333333" stroke-width="4.4"/>
<line x1="699" y1="1854.1" x2="711.5" y2="1854.1" stroke="#333333" stroke-width="3.8"/>
<text x="687.8" y="1867.5" font-size="40" text-anchor="end" fill="#363636">0.095</text>
<line x1="699" y1="1978.3" x2="711.5" y2="1978.3" stroke="#333333" stroke-width="3.8"/>
<text x="687.8" y="1991.7" font-size="40" text-anchor="end" fill="#363636">0.090</text>
<line x1="699" y1="2102.5" x2="711.5" y2="2102.5" stroke="#333333" stroke-width="3.8"/>
<text x="687.8" y="2115.9" font-size="40" text-anchor="end" fill="#363636">0.085</text>
<line x1="699" y1="2226.7" x2="711.5" y2="2226.7" stroke="#333333" stroke-width="3.8"/>
<text x="687.8" y="2240.1" font-size="40" text-anchor="end" fill="#363636">0.080</text>
<line x1="699" y1="2350.9" x2="711.5" y2="2350.9" stroke="#333333" stroke-width="3.8"/>
<text x="687.8" y="2364.3" font-size="40" text-anchor="end" fill="#363636">0.075</text>
<line x1="699" y1="2475.1" x2="711.5" y2="2475.1" stroke="#333333" stroke-width="3.8"/>
<text x="687.8" y="2488.5" font-size="40" text-anchor="end" fill="#363636">0.070</text>
<line x1="781.9" y1="2494.5" x2="781.9" y2="2507" stroke="#333333" stroke-width="3.8"/>
<text x="781.9" y="2545.5" font-size="39.5" text-anchor="middle" fill="#363636">A</text>
<line x1="901.1" y1="2494.5" x2="901.1" y2="2507" stroke="#333333" stroke-width="3.8"/>
<text x="901.1" y="2545.5" font-size="39.5" text-anchor="middle" fill="#363636">D</text>
<text x="839.5" y="2601" font-size="48" text-anchor="middle" fill="#111">chromosome</text>
<text transform="translate(551.2 2170.1) rotate(-90)" x="0" y="15.5" font-size="47" text-anchor="middle" fill="#1a1a1a">DJ2</text>
</g>
<g class="panel" id="c3">
<line x1="1246" y1="1985.5" x2="1246" y2="1998.9" stroke="#3a3a3a" stroke-width="3.8"/>
<line x1="1246" y1="2075.8" x2="1246" y2="2111.6" stroke="#3a3a3a" stroke-width="3.8"/>
<rect x="1206.5" y="1999.9" width="79" height="76.2" fill="#1f77b4" stroke="#3a3a3a" stroke-width="2.8"/>
<line x1="1206.5" y1="2038.4" x2="1285.5" y2="2038.4" stroke="#3a3a3a" stroke-width="6.5"/>
<line x1="1364" y1="1893.9" x2="1364" y2="1949.7" stroke="#3a3a3a" stroke-width="3.8"/>
<line x1="1364" y1="2099.4" x2="1364" y2="2197" stroke="#3a3a3a" stroke-width="3.8"/>
<rect x="1324.5" y="1950.7" width="79" height="149" fill="#ff7f0e" stroke="#3a3a3a" stroke-width="2.8"/>
<line x1="1324.5" y1="1997.7" x2="1403.5" y2="1997.7" stroke="#3a3a3a" stroke-width="6.5"/>
<g fill="#000"><circle cx="1233.8" cy="1987.5" r="5.6"/><circle cx="1265.1" cy="1984.3" r="5.6"/><circle cx="1243.6" cy="1998.9" r="5.6"/><circle cx="1257" cy="2001.8" r="5.6"/><circle cx="1223.2" cy="2016" r="5.6"/><circle cx="1242.8" cy="2020.1" r="5.6"/><circle cx="1258.2" cy="2038.4" r="5.6"/><circle cx="1232.6" cy="2056.7" r="5.6"/><circle cx="1255" cy="2062.8" r="5.6"/><circle cx="1260.2" cy="2075" r="5.6"/><circle cx="1244" cy="2105.5" r="5.6"/><circle cx="1239.9" cy="2112.4" r="5.6"/><circle cx="1255" cy="2230.4" r="5.6"/><circle cx="1350.6" cy="1894.8" r="5.6"/><circle cx="1343.2" cy="1930.6" r="5.6"/><circle cx="1384.3" cy="1945.6" r="5.6"/><circle cx="1368.9" cy="1950.9" r="5.6"/><circle cx="1355.9" cy="1955" r="5.6"/><circle cx="1371.7" cy="1984.3" r="5.6"/><circle cx="1382.3" cy="1997.7" r="5.6"/><circle cx="1345.3" cy="2029.4" r="5.6"/><circle cx="1363.6" cy="2062.8" r="5.6"/><circle cx="1367.6" cy="2099.4" r="5.6"/><circle cx="1371.7" cy="2184" r="5.6"/><circle cx="1345.7" cy="2198.3" r="5.6"/><circle cx="1353.4" cy="2465.5" r="5.6"/></g>
<path d="M1246 1884.5V1866.5H1364V1884.5" fill="none" stroke="#1a1a1a" stroke-width="4.4"/>
<text x="1305.8" y="1853.3" font-size="56" text-anchor="middle" fill="#1a1a1a">ns</text>
<rect x="1175.8" y="1794" width="260.1" height="700.5" fill="none" stroke="#333333" stroke-width="4.4"/>
<line x1="1163.3" y1="1869.3" x2="1175.8" y2="1869.3" stroke="#333333" stroke-width="3.8"/>
<text x="1155.3" y="1882.7" font-size="40" text-anchor="end" fill="#363636">0.10</text>
<line x1="1163.3" y1="2094.5" x2="1175.8" y2="2094.5" stroke="#333333" stroke-width="3.8"/>
<text x="1155.3" y="2107.9" font-size="40" text-anchor="end" fill="#363636">0.09</text>
<line x1="1163.3" y1="2319.6" x2="1175.8" y2="2319.6" stroke="#333333" stroke-width="3.8"/>
<text x="1155.3" y="2333" font-size="40" text-anchor="end" fill="#363636">0.08</text>
<line x1="1246" y1="2494.5" x2="1246" y2="2507" stroke="#333333" stroke-width="3.8"/>
<text x="1246" y="2545.5" font-size="39.5" text-anchor="middle" fill="#363636">A</text>
<line x1="1364" y1="2494.5" x2="1364" y2="2507" stroke="#333333" stroke-width="3.8"/>
<text x="1364" y="2545.5" font-size="39.5" text-anchor="middle" fill="#363636">D</text>
<text x="1303.6" y="2601" font-size="48" text-anchor="middle" fill="#111">chromosome</text>
<text transform="translate(1051.5 2170.1) rotate(-90)" x="0" y="15.5" font-size="47" text-anchor="middle" fill="#1a1a1a">DJ3</text>
</g>
<g class="panel" id="c4">
<line x1="1740.7" y1="1995.6" x2="1740.7" y2="2011.1" stroke="#3a3a3a" stroke-width="3.8"/>
<line x1="1740.7" y1="2088.4" x2="1740.7" y2="2125.8" stroke="#3a3a3a" stroke-width="3.8"/>
<rect x="1701.2" y="2012.1" width="79" height="76.6" fill="#1f77b4" stroke="#3a3a3a" stroke-width="2.8"/>
<line x1="1701.2" y1="2066.8" x2="1780.2" y2="2066.8" stroke="#3a3a3a" stroke-width="6.5"/>
<line x1="1858.7" y1="1893.9" x2="1858.7" y2="1944" stroke="#3a3a3a" stroke-width="3.8"/>
<line x1="1858.7" y1="2096.5" x2="1858.7" y2="2195" stroke="#3a3a3a" stroke-width="3.8"/>
<rect x="1819.2" y="1945" width="79" height="151.9" fill="#ff7f0e" stroke="#3a3a3a" stroke-width="2.8"/>
<line x1="1819.2" y1="1990.8" x2="1898.2" y2="1990.8" stroke="#3a3a3a" stroke-width="6.5"/>
<g fill="#000"><circle cx="1723.6" cy="1994.4" r="5.6"/><circle cx="1719.2" cy="2010.7" r="5.6"/><circle cx="1726.5" cy="2012.7" r="5.6"/><circle cx="1755.8" cy="2012.7" r="5.6"/><circle cx="1735.4" cy="2020.9" r="5.6"/><circle cx="1723.6" cy="2068.9" r="5.6"/><circle cx="1743.6" cy="2065.6" r="5.6"/><circle cx="1760.2" cy="2070.9" r="5.6"/><circle cx="1740.7" cy="2088.4" r="5.6"/><circle cx="1739.9" cy="2115.7" r="5.6"/><circle cx="1739.9" cy="2126.6" r="5.6"/><circle cx="1761.1" cy="2241.8" r="5.6"/><circle cx="1869.7" cy="1894.8" r="5.6"/><circle cx="1844.5" cy="1921.2" r="5.6"/><circle cx="1879" cy="1941.5" r="5.6"/><circle cx="1875.8" cy="1949.7" r="5.6"/><circle cx="1884.3" cy="1975.3" r="5.6"/><circle cx="1862.8" cy="1979.4" r="5.6"/><circle cx="1849.7" cy="1990.8" r="5.6"/><circle cx="1850.6" cy="2052.6" r="5.6"/><circle cx="1869.7" cy="2096.5" r="5.6"/><circle cx="1849.3" cy="2177.5" r="5.6"/><circle cx="1865.6" cy="2194.2" r="5.6"/><circle cx="1841.2" cy="2465.5" r="5.6"/></g>
<path d="M1740.7 1884.5V1866.5H1858.7V1884.5" fill="none" stroke="#1a1a1a" stroke-width="4.4"/>
<text x="1799.7" y="1862.8" font-size="56" text-anchor="middle" fill="#1a1a1a">**</text>
<rect x="1670.7" y="1794" width="260.1" height="700.5" fill="none" stroke="#333333" stroke-width="4.4"/>
<line x1="1658.2" y1="1838.6" x2="1670.7" y2="1838.6" stroke="#333333" stroke-width="3.8"/>
<text x="1646.8" y="1852" font-size="40" text-anchor="end" fill="#363636">0.105</text>
<line x1="1658.2" y1="1945.9" x2="1670.7" y2="1945.9" stroke="#333333" stroke-width="3.8"/>
<text x="1646.8" y="1959.3" font-size="40" text-anchor="end" fill="#363636">0.100</text>
<line x1="1658.2" y1="2053.2" x2="1670.7" y2="2053.2" stroke="#333333" stroke-width="3.8"/>
<text x="1646.8" y="2066.6" font-size="40" text-anchor="end" fill="#363636">0.095</text>
<line x1="1658.2" y1="2160.5" x2="1670.7" y2="2160.5" stroke="#333333" stroke-width="3.8"/>
<text x="1646.8" y="2173.9" font-size="40" text-anchor="end" fill="#363636">0.090</text>
<line x1="1658.2" y1="2267.8" x2="1670.7" y2="2267.8" stroke="#333333" stroke-width="3.8"/>
<text x="1646.8" y="2281.2" font-size="40" text-anchor="end" fill="#363636">0.085</text>
<line x1="1658.2" y1="2375.1" x2="1670.7" y2="2375.1" stroke="#333333" stroke-width="3.8"/>
<text x="1646.8" y="2388.5" font-size="40" text-anchor="end" fill="#363636">0.080</text>
<line x1="1658.2" y1="2482.4" x2="1670.7" y2="2482.4" stroke="#333333" stroke-width="3.8"/>
<text x="1646.8" y="2495.8" font-size="40" text-anchor="end" fill="#363636">0.075</text>
<line x1="1740.7" y1="2494.5" x2="1740.7" y2="2507" stroke="#333333" stroke-width="3.8"/>
<text x="1740.7" y="2545.5" font-size="39.5" text-anchor="middle" fill="#363636">A</text>
<line x1="1858.7" y1="2494.5" x2="1858.7" y2="2507" stroke="#333333" stroke-width="3.8"/>
<text x="1858.7" y="2545.5" font-size="39.5" text-anchor="middle" fill="#363636">D</text>
<text x="1798.5" y="2601" font-size="48" text-anchor="middle" fill="#111">chromosome</text>
<text transform="translate(1517 2170.1) rotate(-90)" x="0" y="15.5" font-size="47" text-anchor="middle" fill="#1a1a1a">DJ4</text>
</g>
<text x="22" y="86.6" font-size="138" fill="#000">a</text>
<text x="24" y="1009.2" font-size="134" fill="#000">b</text>
<text transform="translate(28 1823.5) scale(1.04 1)" x="0" y="0" font-size="127" fill="#000" stroke="#000" stroke-width="1.6">c</text>
</svg>
</body>
</html>
